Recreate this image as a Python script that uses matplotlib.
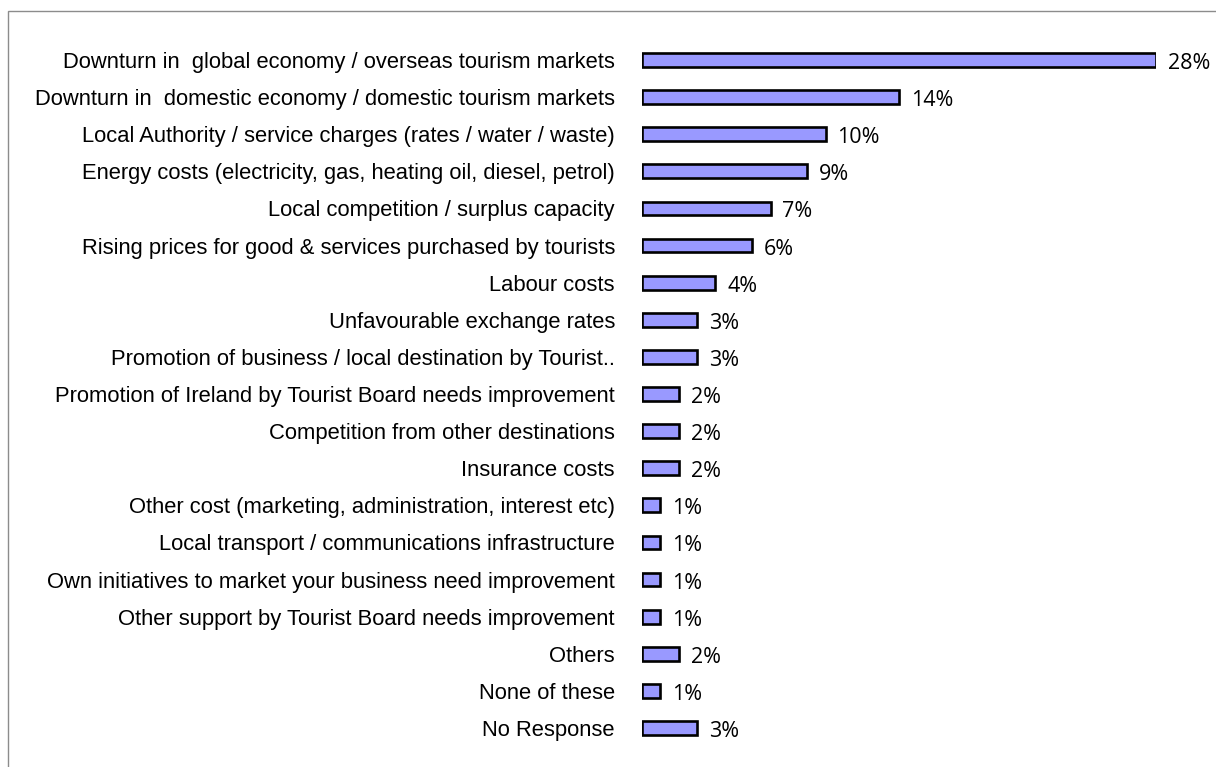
import matplotlib
matplotlib.use("Agg")
import matplotlib.pyplot as plt
from matplotlib.patches import Rectangle

categories = [
    "Downturn in  global economy / overseas tourism markets",
    "Downturn in  domestic economy / domestic tourism markets",
    "Local Authority / service charges (rates / water / waste)",
    "Energy costs (electricity, gas, heating oil, diesel, petrol)",
    "Local competition / surplus capacity",
    "Rising prices for good & services purchased by tourists",
    "Labour costs",
    "Unfavourable exchange rates",
    "Promotion of business / local destination by Tourist..",
    "Promotion of Ireland by Tourist Board needs improvement",
    "Competition from other destinations",
    "Insurance costs",
    "Other cost (marketing, administration, interest etc)",
    "Local transport / communications infrastructure",
    "Own initiatives to market your business need improvement",
    "Other support by Tourist Board needs improvement",
    "Others",
    "None of these",
    "No Response",
]
values = [28, 14, 10, 9, 7, 6, 4, 3, 3, 2, 2, 2, 1, 1, 1, 1, 2, 1, 3]
value_labels = [f"{v}%" for v in values]

W, H = 1216, 767
fig = plt.figure(figsize=(W / 100, H / 100), dpi=100)

# outer chart frame (runs off the right and bottom edges)
fig.add_artist(Rectangle((8 / W, -0.1), 1.2, 1 - 11 / H + 0.1,
                         transform=fig.transFigure, fill=False,
                         edgecolor="#8c8c8c", linewidth=1.0))

ax = fig.add_axes([642 / W, 1 - 746.6 / H, (1156 - 642) / W, (746.6 - 41.4) / H])
ypos = list(range(len(categories)))
ax.barh(ypos, values, height=0.37, color="#9999ff", edgecolor="black",
        linewidth=1.9, align="center")
ax.set_xlim(0, 28)
ax.set_ylim(len(categories) - 0.5, -0.5)
ax.set_yticks(ypos)
ax.set_yticklabels(categories, fontsize=15.8, family="Liberation Sans")
ax.tick_params(axis="y", length=0, pad=19.5)
ax.set_xticks([])
for s in ax.spines.values():
    s.set_visible(False)
ax.patch.set_alpha(0)

for y, v, lab in zip(ypos, values, value_labels):
    ax.annotate(lab, (v, y), xytext=(8.5, -2.5), textcoords="offset points",
                ha="left", va="center", fontsize=15.5, family="Open Sans",
                annotation_clip=False)

fig.savefig("out.png", dpi=100)
